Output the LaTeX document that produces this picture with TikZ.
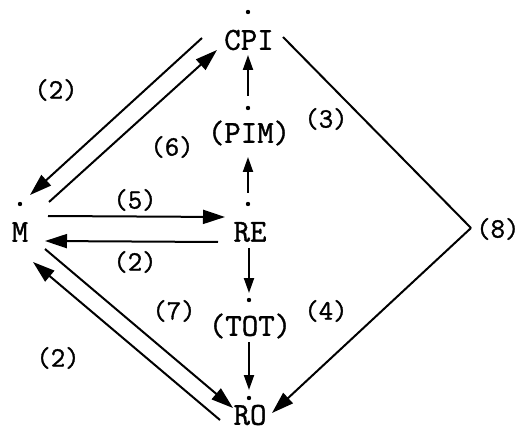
\documentclass[tikz,border=0pt]{standalone}
\usepackage{fontspec}
\newfontfamily\typew[FakeBold=1.2]{Latin Modern Mono}
\usetikzlibrary{arrows.meta,calc}
\tikzset{
  state/.style={font=\typew\fontsize{32}{32}\selectfont, inner sep=0pt},
  num/.style={font=\typew\fontsize{28}{28}\selectfont, inner sep=0pt},
  flow/.style={line width=2pt, -{Triangle[length=22pt,width=14pt]}},
  upflow/.style={line width=2pt, -{Triangle[length=15pt,width=10pt]}},
  link/.style={line width=2pt},
  pt/.style={fill=black}
}
\begin{document}
\begin{tikzpicture}[x=1pt, y=-1pt]
    \useasboundingbox (0,0) rectangle (520,433);
    % States
    \node[state] (M) at (20,232) {M};
    \node[state] (CPI) at (249,40) {CPI};
    \node[state] (PIM) at (249,133) {(PIM)};
    \node[state] (RE) at (250,232) {RE};
    \node[state] (TOT) at (250,326) {(TOT)};
    \node[state] (RO) at (250,415) {RO};
    \coordinate (J) at (471,228);

    % Dots over the states
    \fill[pt] ($(M)+(0,-28)$) circle (2.2pt);
    \fill[pt] ($(CPI)+(-1,-28)$) circle (2.2pt);
    \fill[pt] ($(PIM)+(-1,-25)$) circle (2.2pt);
    \fill[pt] ($(RE)+(-2,-28)$) circle (2.2pt);
    \fill[pt] ($(TOT)+(-1,-26)$) circle (2.2pt);
    \fill[pt] ($(RO)+(-1,-17)$) circle (2.2pt);

    % M and CPI
    \draw[flow] ($(M)+(29,-30)$) -- ($(CPI)+(-32,10)$);
    \draw[flow] ($(CPI)+(-47,-2)$) -- ($(M)+(10,-37)$);
    % M and RE
    \draw[flow] ($(M)+(28,-16)$) -- ($(RE)+(-25,-15)$);
    \draw[flow] ($(RE)+(-32,10)$) -- ($(M)+(25,9)$);
    % M and RO
    \draw[flow] ($(M)+(25,17)$) -- ($(RO)+(-17,-7)$);
    \draw[flow] ($(RO)+(-30,5)$) -- ($(M)+(13,30)$);
    % CPI over (8) to RO
    \draw[link] ($(CPI)+(34,-3)$) -- (J);
    \draw[flow] (J) -- ($(RO)+(22,-2)$);
    % centre column
    \draw[upflow] ($(PIM)+(-1,-37)$) -- ($(CPI)+(-1,15)$);
    \draw[upflow] ($(RE)+(-2,-39)$) -- ($(PIM)+(-1,24)$);
    \draw[upflow] ($(RE)+(-1,16)$) -- ($(TOT)+(-1,-33)$);
    \draw[upflow] ($(TOT)+(-1,16)$) -- ($(RO)+(-1,-25)$);

    % Numbers
    \node[num] (n2a) at (56,90) {(2)};
    \node[num] (n6) at (172,147) {(6)};
    \node[num] (n5) at (135,200) {(5)};
    \node[num] (n2b) at (135,262) {(2)};
    \node[num] (n7) at (174,311) {(7)};
    \node[num] (n2c) at (58,358) {(2)};
    \node[num] (n3) at (326,119) {(3)};
    \node[num] (n4) at (326,311) {(4)};
    \node[num, anchor=west] (n8) at (476,229) {(8)};
\end{tikzpicture}
\end{document}
